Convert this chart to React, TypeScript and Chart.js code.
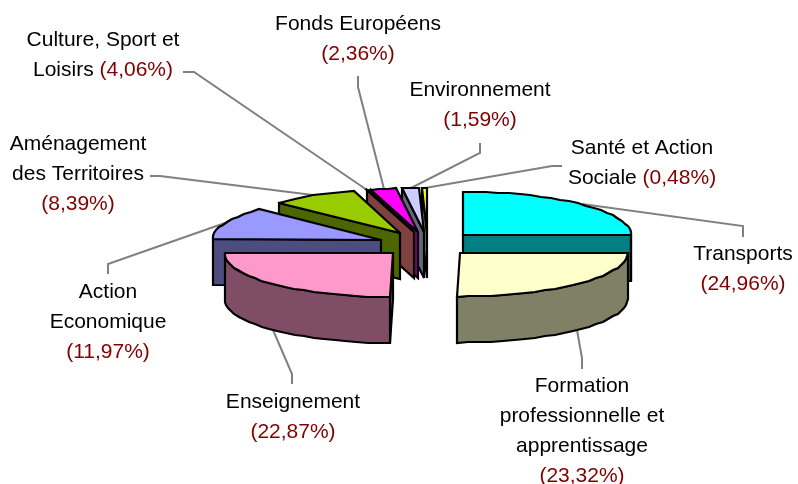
import React, { useEffect, useRef } from "react";
import { Chart, registerables } from "chart.js";

Chart.register(...registerables);

// Category order, clockwise from 12 o'clock
const categories = [
  "Transports",
  "Formation professionnelle et apprentissage",
  "Enseignement",
  "Action Economique",
  "Aménagement des Territoires",
  "Culture, Sport et Loisirs",
  "Fonds Européens",
  "Environnement",
  "Santé et Action Sociale",
];

// Percentages printed in the labels
const printedPercents = [24.96, 23.32, 22.87, 11.97, 8.39, 4.06, 2.36, 1.59, 0.48];

// Slice sizes as they appear in the picture (the Culture slice is collapsed to a sliver)
const drawnShares = [24.96, 25.2, 24.8, 11.97, 8.39, 0.05, 2.36, 1.59, 0.48];

const sliceColors = ["#00FFFF", "#FFFFCC", "#FF99CC", "#9999FF", "#99CC00", "#FF8080", "#FF00FF", "#CCCCFF", "#FFFF00"];
const wallColors = ["#008080", "#808066", "#804D66", "#4D4D80", "#4D6600", "#804040", "#800080", "#666680", "#808000"];
const sliceExplode = [50, 45, 49, 51, 53, 51, 51, 49, 49];

const labelLines = [
  ["Transports"],
  ["Formation", "professionnelle et", "apprentissage"],
  ["Enseignement"],
  ["Action", "Economique"],
  ["Aménagement", "des Territoires"],
  ["Culture, Sport et", "Loisirs"],
  ["Fonds Européens"],
  ["Environnement"],
  ["Santé et Action", "Sociale"],
];
const percentOnSameLine = [false, false, false, false, false, true, false, false, true];

// Label anchor: centre x, first baseline y
const labelAnchors: [number, number][] = [
  [743, 260], [582, 392], [293, 408], [108, 298], [78, 150], [103, 46], [358, 30], [480, 96], [642, 154],
];

// Leader line bends, from slice towards label
const leaderBends: [number, number][][] = [
  [[743, 226], [743, 237]],
  [[582, 358], [582, 369]],
  [[292, 374], [292, 384]],
  [[108, 264], [108, 274]],
  [[160, 176], [150, 176]],
  [[194, 72], [183, 72]],
  [[358, 87], [358, 76]],
  [[480, 153], [480, 143]],
  [[552, 166], [562, 166]],
];

// Painter's order, back to front
const paintOrder = [8, 7, 6, 5, 4, 3, 0, 1, 2];

const TILT = 0.26;
const DEPTH = 46;
const LINE_SPACING = 30;
const FONT = '21px "Liberation Sans", Arial, sans-serif';

const pie3dPlugin = {
  id: "pie3d",
  beforeDatasetsDraw(chart: any) {
    const ctx: CanvasRenderingContext2D = chart.ctx;
    const arcs = chart.getDatasetMeta(0).data;

    const geom = (arc: any, i: number) => {
      const mid = (arc.startAngle + arc.endAngle) / 2;
      const ox = arc.x + Math.cos(mid) * sliceExplode[i];
      const oy = arc.y + Math.sin(mid) * sliceExplode[i] * TILT;
      const rx = arc.outerRadius;
      const ry = rx * TILT;
      const pt = (a: number, dy = 0): [number, number] => [
        Math.round(ox + Math.cos(a) * rx),
        Math.round(oy + Math.sin(a) * ry + dy),
      ];
      return { mid, ox, oy, rx, ry, pt };
    };

    const poly = (pts: [number, number][], fill: string) => {
      ctx.beginPath();
      pts.forEach((p, i) => (i ? ctx.lineTo(p[0], p[1]) : ctx.moveTo(p[0], p[1])));
      ctx.closePath();
      ctx.fillStyle = fill;
      ctx.fill();
      ctx.stroke();
    };

    const rim = (pt: any, from: number, to: number, dy = 0) => {
      const out: [number, number][] = [];
      const step = (4 * Math.PI) / 180;
      const n = Math.max(1, Math.ceil((to - from) / step));
      for (let i = 0; i <= n; i++) out.push(pt(from + ((to - from) * i) / n, dy));
      return out;
    };

    // leader lines
    ctx.save();
    ctx.strokeStyle = "#808080";
    ctx.lineWidth = 2;
    arcs.forEach((arc: any, i: number) => {
      const g = geom(arc, i);
      const front = Math.sin(g.mid) > 0;
      const a = g.pt(g.mid, front ? DEPTH : 0);
      ctx.beginPath();
      ctx.moveTo(a[0], a[1]);
      leaderBends[i].forEach((b) => ctx.lineTo(b[0], b[1]));
      ctx.stroke();
    });
    ctx.restore();

    // slices
    ctx.save();
    ctx.strokeStyle = "#000000";
    ctx.lineWidth = 2.2;
    ctx.lineJoin = "miter";
    ctx.miterLimit = 4;
    paintOrder.forEach((i) => {
      const arc = arcs[i];
      const g = geom(arc, i);
      const s = arc.startAngle;
      const e = arc.endAngle;
      const apex: [number, number] = [Math.round(g.ox), Math.round(g.oy)];
      const apexLow: [number, number] = [apex[0], apex[1] + DEPTH];
      const wall = arc.options.borderColor;

      // radial walls turned towards the viewer
      if (Math.cos(s) < -1e-6) poly([apex, g.pt(s), g.pt(s, DEPTH), apexLow], wall);
      if (Math.cos(e) > 1e-6) poly([apex, g.pt(e), g.pt(e, DEPTH), apexLow], wall);

      // outer wall on the front half of the ellipse
      const from = Math.max(s, 0);
      const to = Math.min(e, Math.PI);
      if (to > from) {
        const topEdge = rim(g.pt, from, to);
        const lowEdge = rim(g.pt, from, to, DEPTH).reverse();
        poly([...topEdge, ...lowEdge], wall);
      }

      // top face
      poly([apex, ...rim(g.pt, s, e)], arc.options.backgroundColor);
    });
    ctx.restore();

    // labels
    ctx.save();
    ctx.font = FONT;
    ctx.textBaseline = "alphabetic";
    ctx.textAlign = "left";
    const black = "#000000";
    const red = "#800000";
    categories.forEach((_, i) => {
      const pct = "(" + printedPercents[i].toFixed(2).replace(".", ",") + "%)";
      const rows: { text: string; color: string }[][] = labelLines[i].map((t) => [{ text: t, color: black }]);
      if (percentOnSameLine[i]) rows[rows.length - 1].push({ text: " " + pct, color: red });
      else rows.push([{ text: pct, color: red }]);
      const [cx, y0] = labelAnchors[i];
      rows.forEach((row, r) => {
        const w = row.reduce((sum, seg) => sum + ctx.measureText(seg.text).width, 0);
        let x = cx - w / 2;
        row.forEach((seg) => {
          ctx.fillStyle = seg.color;
          ctx.fillText(seg.text, x, y0 + r * LINE_SPACING);
          x += ctx.measureText(seg.text).width;
        });
      });
    });
    ctx.restore();
    return false;
  },
};

export default function App() {
  const ref = useRef<HTMLCanvasElement>(null);
  useEffect(() => {
    if (!ref.current) return;
    const chart = new Chart(ref.current, {
      type: "pie",
      data: {
        labels: categories,
        datasets: [
          {
            data: drawnShares,
            backgroundColor: sliceColors,
            borderColor: wallColors,
            borderWidth: 0,
          },
        ],
      },
      options: {
        responsive: false,
        animation: false,
        maintainAspectRatio: false,
        layout: { padding: { left: 58, right: 0, top: 76.5, bottom: 71.5 } },
        plugins: { legend: { display: false }, tooltip: { enabled: false } },
      },
      plugins: [pie3dPlugin],
    } as any);
    return () => chart.destroy();
  }, []);
  return (
    <div style={{ position: "absolute", left: 0, top: 0, width: 798, height: 484, background: "#fff" }}>
      <canvas ref={ref} width={798} height={484} style={{ display: "block" }} />
    </div>
  );
}
